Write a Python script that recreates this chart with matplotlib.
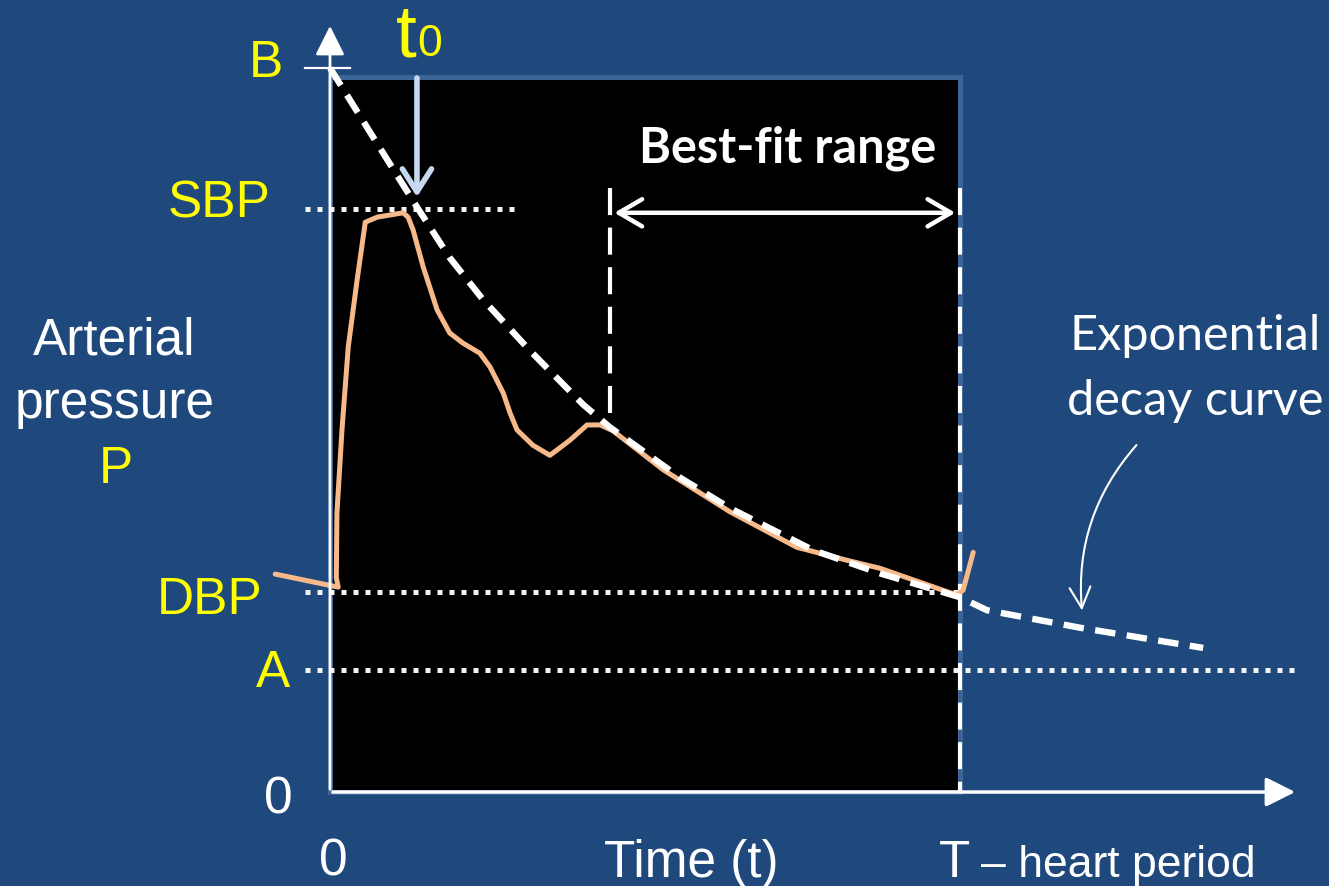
import matplotlib.pyplot as plt
from matplotlib.patches import Rectangle

# time in units of the heart period T, pressure in units where B = 100
levels = {'B': 100.0, 'SBP': 80.5, 'DBP': 27.6, 'A': 16.9}
t_fit_start = 0.444
t_zero = 0.138

# exponential decay curve (dashed)
decay_t = [0.0, 0.071, 0.138, 0.190, 0.243, 0.317, 0.402, 0.444, 0.556, 0.635,
           0.767, 0.873, 1.0, 1.043, 1.190, 1.386]
decay_p = [100.0, 90.1, 80.8, 73.8, 68.0, 61.0, 53.5, 50.4, 43.4, 39.2,
           33.4, 30.2, 26.9, 25.1, 22.7, 19.9]

# arterial pressure waveform (orange)
wave_t = [-0.087, 0.013, 0.010, 0.011, 0.019, 0.029, 0.043, 0.056, 0.075, 0.116,
          0.124, 0.132, 0.148, 0.170, 0.190, 0.211, 0.238, 0.254, 0.275, 0.286,
          0.297, 0.322, 0.349, 0.381, 0.408, 0.429, 0.449, 0.529, 0.635, 0.741,
          0.821, 0.873, 0.995, 1.005, 1.021]
wave_p = [30.1, 28.3, 29.6, 38.5, 50.0, 61.5, 70.7, 78.7, 79.4, 80.0,
          79.4, 77.6, 72.5, 66.6, 63.4, 62.0, 60.6, 58.7, 55.1, 52.3,
          50.0, 47.9, 46.5, 48.6, 50.7, 50.7, 49.9, 44.5, 38.7, 33.8,
          32.0, 30.9, 27.2, 27.9, 33.1]

BG = '#1F497D'
YELLOW = '#FFFF00'
ORANGE = '#F7B98A'
DOT = '#F2F2F2'

fig, ax = plt.subplots(figsize=(13.29, 8.86), dpi=100)
fig.patch.set_facecolor(BG)
ax.set_position([0, 0, 1, 1])
ax.set_xlim(-0.5238, 1.5857)
ax.set_ylim(-12.98, 109.39)
ax.axis('off')

# black plotting window
ax.add_patch(Rectangle((0, 0), 1.0, 98.7, facecolor='black', edgecolor='#3C6496',
                       linewidth=3.6, zorder=1))

# dotted reference levels
dot_style = dict(color=DOT, linewidth=3.6, linestyle=(0, (1, 1.4)),
                 dash_capstyle='butt', zorder=3)
ax.plot([-0.040, 0.298], [levels['SBP']] * 2, **dot_style)
ax.plot([-0.040, 1.0], [levels['DBP']] * 2, **dot_style)
ax.plot([-0.040, 1.532], [levels['A']] * 2, **dot_style)

# best-fit range markers
vdash = dict(color='white', linewidth=3.0, linestyle=(0, (6.5, 3)), zorder=3)
ax.plot([t_fit_start, t_fit_start], [83.4, 50.4], **vdash)
ax.plot([1.0, 1.0], [83.4, 0], **vdash)
ax.annotate('', xy=(t_fit_start + 0.003, 80.0), xytext=(0.997, 80.0),
            arrowprops=dict(arrowstyle='<->,head_length=0.6,head_width=0.35',
                            color='white', lw=3.2, mutation_scale=28), zorder=4)
ax.text(0.727, 86.9, 'Best-fit range', color='white', fontsize=35,
        fontweight='bold', family='Lato', ha='center', va='baseline')

# pressure waveform and exponential fit
ax.plot(wave_t, wave_p, color=ORANGE, linewidth=3.6, solid_joinstyle='round',
        solid_capstyle='round', zorder=4)
ax.plot(decay_t, decay_p, color='white', linewidth=4.6, linestyle=(0, (3.2, 1.8)),
        dash_capstyle='butt', zorder=5)

# axes with arrows
ax.annotate('', xy=(0, 106.2), xytext=(0, 0),
            arrowprops=dict(arrowstyle='-|>,head_length=0.9,head_width=0.45',
                            color='white', lw=2, mutation_scale=20), zorder=6)
ax.annotate('', xy=(1.5365, 0), xytext=(0, 0),
            arrowprops=dict(arrowstyle='-|>,head_length=0.9,head_width=0.45',
                            color='white', lw=2.5, mutation_scale=20), zorder=6)
ax.plot([-0.040, 0.032], [100, 100], color='white', lw=1.6, zorder=6)

# t0 marker
ax.annotate('', xy=(t_zero, 81.8), xytext=(t_zero, 99.0),
            arrowprops=dict(arrowstyle='->,head_length=0.55,head_width=0.35',
                            color='#C6D9F1', lw=4, mutation_scale=30), zorder=6)
ax.text(0.121, 101.6, 't', color=YELLOW, fontsize=54, family='Liberation Sans',
        ha='center', va='baseline')
ax.text(0.158, 101.6, '0', color=YELLOW, fontsize=32, family='Liberation Sans',
        ha='center', va='baseline')

# level labels
lab = dict(color=YELLOW, fontsize=37, family='Liberation Sans', ha='center', va='baseline')
ax.text(-0.102, 98.8, 'B', **lab)
ax.text(-0.176, 79.4, 'SBP', **lab)
ax.text(-0.191, 24.6, 'DBP', **lab)
ax.text(-0.091, 14.5, 'A', **lab)
ax.text(-0.340, 42.7, 'P', **lab)

wlab = dict(color='white', fontsize=37, family='Liberation Sans', ha='center', va='baseline')
ax.text(-0.342, 60.4, 'Arterial', **wlab)
ax.text(-0.342, 51.7, 'pressure', **wlab)
ax.text(-0.082, -2.9, '0', **wlab)
ax.text(0.005, -11.5, '0', **wlab)
ax.text(0.573, -11.7, 'Time (t)', **wlab)
ax.text(0.992, -11.7, 'T', **wlab)
ax.text(1.033, -11.7, '\u2013 heart period', color='white', fontsize=32,
        family='Liberation Sans', ha='left', va='baseline')

# exponential decay curve callout
ax.text(1.373, 61.0, 'Exponential', color='white', fontsize=35, family='Lato',
        ha='center', va='baseline')
ax.text(1.373, 52.1, 'decay curve', color='white', fontsize=35, family='Lato',
        ha='center', va='baseline')
ax.annotate('', xy=(1.194, 24.7), xytext=(1.283, 48.2),
            arrowprops=dict(arrowstyle='->,head_length=0.6,head_width=0.3',
                            color='white', lw=1.5, mutation_scale=25,
                            connectionstyle='arc3,rad=0.22'), zorder=6)

fig.savefig('out.png', dpi=100, facecolor=BG)
